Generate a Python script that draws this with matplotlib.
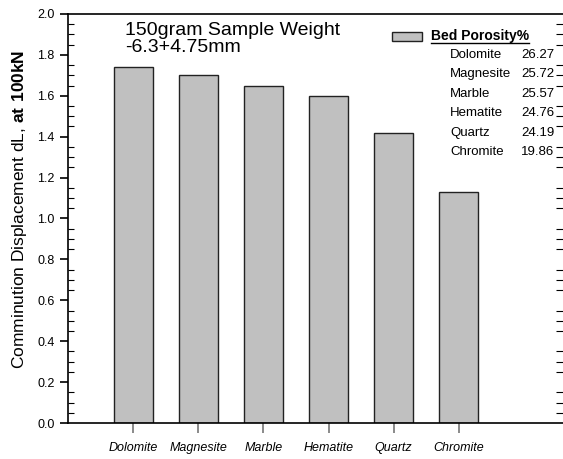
import matplotlib.pyplot as plt
from matplotlib.patches import Rectangle
from matplotlib.lines import Line2D
from matplotlib.ticker import MultipleLocator

plt.rcParams["font.family"] = ["Liberation Sans", "DejaVu Sans"]
plt.rcParams["mathtext.fontset"] = "custom"
plt.rcParams["mathtext.rm"] = "Liberation Sans"
plt.rcParams["mathtext.bf"] = "Liberation Sans:bold"

minerals = ["Dolomite", "Magnesite", "Marble", "Hematite", "Quartz", "Chromite"]
displacement = [1.74, 1.70, 1.65, 1.60, 1.42, 1.13]
porosity = ["26.27", "25.72", "25.57", "24.76", "24.19", "19.86"]

fig = plt.figure(figsize=(5.63, 4.59), dpi=100)
ax = fig.add_axes([68 / 563, 36 / 459, 495 / 563, 409 / 459])

pos = list(range(1, len(minerals) + 1))
ax.bar(pos, displacement, width=0.6, color="#c0c0c0", edgecolor="#222222", linewidth=1.0)

ax.set_xlim(0, 7.6)
ax.set_ylim(0, 2.0)
ax.set_xticks(pos)
ax.set_xticklabels(minerals, fontsize=9, style="italic")
ax.yaxis.set_major_locator(MultipleLocator(0.2))
ax.yaxis.set_minor_locator(MultipleLocator(0.05))
ax.yaxis.set_major_formatter(plt.FuncFormatter(lambda v, p: f"{v:.1f}"))
ax.tick_params(axis="y", which="major", direction="out", length=6, width=1.2, labelsize=9)
ax.tick_params(axis="y", which="minor", direction="in", length=4, width=0.8)
ax.tick_params(axis="y", which="both", right=True, labelright=False)
ax.tick_params(axis="x", direction="out", length=7, width=1.2, color="#777777", pad=7)
ax.spines["right"].set_visible(False)
for s in ["left", "bottom", "top"]:
    ax.spines[s].set_linewidth(1.2)

# right-side ticks drawn inward and grey
for t in ax.yaxis.get_major_ticks() + ax.yaxis.get_minor_ticks():
    t.tick2line.set_color("#777777")
    t.tick2line.set_markersize(5)

ax.set_ylabel(r"Comminution Displacement dL, $\bf{at\ 100kN}$", fontsize=12.5)
ax.yaxis.set_label_coords(-0.078, 0.523)

ax.text(0.115, 0.98, "150gram Sample Weight\n-6.3+4.75mm",
        transform=ax.transAxes, fontsize=14, va="top", ha="left", linespacing=1.0)

# legend box + table
ax.add_patch(Rectangle((0.654, 0.933), 0.061, 0.024, transform=ax.transAxes,
                       facecolor="#c0c0c0", edgecolor="#222222", linewidth=1.0, clip_on=False))
title = ax.text(0.733, 0.946, "Bed Porosity%", transform=ax.transAxes, fontsize=10,
                fontweight="bold", va="center", ha="left")
row_h = 19.4 / 409
for i, (name, val) in enumerate(zip(minerals, porosity)):
    y = 0.946 - (i + 1) * row_h + 0.001
    ax.text(0.772, y, name, transform=ax.transAxes, fontsize=9.5, va="center", ha="left")
    ax.text(0.982, y, val, transform=ax.transAxes, fontsize=9.5, va="center", ha="right")

fig.canvas.draw()
bb = title.get_window_extent()
fig.add_artist(Line2D([bb.x0 / fig.bbox.width, bb.x1 / fig.bbox.width],
                      [(bb.y0 + 0.5) / fig.bbox.height] * 2, color="black", linewidth=1.0))

fig.savefig("out.png", dpi=100)
